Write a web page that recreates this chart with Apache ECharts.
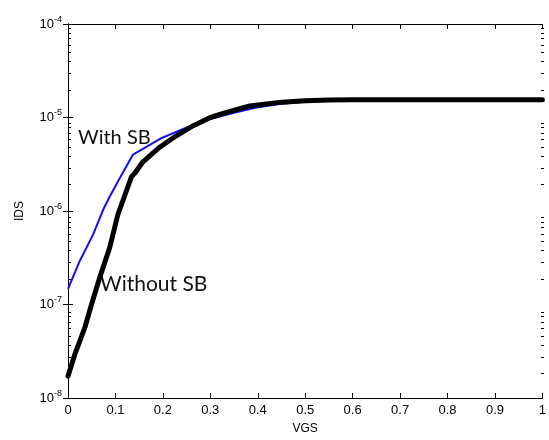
<!DOCTYPE html>
<html>
<head>
<meta charset="utf-8">
<script src="https://cdn.jsdelivr.net/npm/echarts@6/dist/echarts.min.js"></script>
<style>
  html, body { margin: 0; padding: 0; background: #fff; }
  #main { width: 549px; height: 440px; }
</style>
</head>
<body>
<div id="main"></div>
<script>
// VGS (V) and IDS (A)
const vgsWith = [0, 0.025, 0.053, 0.074, 0.088, 0.109, 0.137, 0.194, 0.243, 0.299, 0.35, 0.397, 0.45, 0.5, 0.55, 0.6, 0.8, 1.0];
const idsWith = [1.47e-7, 2.94e-7, 5.62e-7, 1.03e-6, 1.43e-6, 2.24e-6, 4.01e-6, 5.92e-6, 7.55e-6, 9.64e-6, 1.12e-5, 1.28e-5, 1.40e-5, 1.47e-5, 1.52e-5, 1.55e-5, 1.55e-5, 1.55e-5];

const vgsWithout = [0, 0.015, 0.036, 0.05, 0.067, 0.088, 0.105, 0.134, 0.14, 0.158, 0.194, 0.229, 0.264, 0.30, 0.334, 0.383, 0.45, 0.5, 0.55, 0.6, 0.8, 1.0];
const idsWithout = [1.71e-8, 2.99e-8, 5.78e-8, 1.02e-7, 1.95e-7, 4.07e-7, 9.12e-7, 2.34e-6, 2.5e-6, 3.36e-6, 4.84e-6, 6.41e-6, 8.18e-6, 1.0e-5, 1.135e-5, 1.33e-5, 1.46e-5, 1.51e-5, 1.54e-5, 1.55e-5, 1.55e-5, 1.55e-5];

const yMin = 1e-8, yMax = 1e-4;
const decades = [-8, -7, -6, -5];
const mantissas = [2, 3, 4, 5, 6, 7, 8, 9];

// minor log ticks, in log10 space for the helper axes
const minorTicks = [];
decades.forEach(e => mantissas.forEach(m => minorTicks.push(e + Math.log10(m))));

const zip = (xs, ys) => xs.map((x, i) => [x, ys[i]]);

const chart = echarts.init(document.getElementById('main'));

const tickBase = { show: true, inside: true, lineStyle: { color: '#000', width: 1 } };
const lineBase = { show: true, lineStyle: { color: '#000', width: 1 } };
const gridBox = { left: 68, right: 5, top: 24, bottom: 38 };

// second grid, same box, only carries the minor log ticks
const minorAxis = (pos) => ({
  type: 'value', gridIndex: 1, position: pos, min: -8, max: -4,
  axisLine: { show: false },
  axisLabel: { show: false },
  splitLine: { show: false },
  axisTick: Object.assign({}, tickBase, { length: 3, customValues: minorTicks })
});

chart.setOption({
  animation: false,
  backgroundColor: '#fff',
  grid: [Object.assign({}, gridBox), Object.assign({}, gridBox)],
  xAxis: [
    {
      type: 'value', position: 'bottom', min: 0, max: 1, interval: 0.1,
      name: 'VGS', nameLocation: 'middle', nameGap: 25, nameMoveOverlap: false,
      nameTextStyle: { color: '#000', fontSize: 12, fontFamily: 'Liberation Sans' },
      axisLine: lineBase,
      axisTick: Object.assign({}, tickBase, { length: 5 }),
      axisLabel: { color: '#000', fontSize: 13, fontFamily: 'Liberation Sans', margin: 6 },
      splitLine: { show: false }
    },
    {
      type: 'value', position: 'top', min: 0, max: 1, interval: 0.1,
      axisLine: lineBase,
      axisTick: Object.assign({}, tickBase, { length: 5 }),
      axisLabel: { show: false },
      splitLine: { show: false }
    },
    {
      type: 'value', gridIndex: 1, min: 0, max: 1, show: false
    }
  ],
  yAxis: [
    {
      type: 'log', logBase: 10, position: 'left', min: yMin, max: yMax,
      name: 'IDS', nameLocation: 'middle', nameGap: 42, nameRotate: 90, nameMoveOverlap: false,
      nameTextStyle: { color: '#000', fontSize: 12, fontFamily: 'Liberation Sans' },
      axisLine: lineBase,
      axisTick: Object.assign({}, tickBase, { length: 5 }),
      axisLabel: {
        margin: 6,
        formatter: v => '{b|10}{s|' + Math.round(Math.log10(v)) + '}',
        rich: {
          b: { fontSize: 13, color: '#000', fontFamily: 'Liberation Sans' },
          s: { fontSize: 9, color: '#000', fontFamily: 'Liberation Sans', padding: [0, 0, 9, 0] }
        }
      },
      splitLine: { show: false }
    },
    {
      type: 'log', logBase: 10, position: 'right', min: yMin, max: yMax,
      axisLine: lineBase,
      axisTick: Object.assign({}, tickBase, { length: 5 }),
      axisLabel: { show: false },
      splitLine: { show: false }
    },
    minorAxis('left'),
    minorAxis('right')
  ],
  graphic: [
    { type: 'text', left: 78, top: 128, style: { text: 'With SB', fontSize: 20, fontFamily: 'Lato', fill: '#111' } },
    { type: 'text', left: 100, top: 274, style: { text: 'Without SB', fontSize: 21, fontFamily: 'Lato', fill: '#111' } }
  ],
  series: [
    {
      name: 'With SB', type: 'line', xAxisIndex: 0, yAxisIndex: 0,
      data: zip(vgsWith, idsWith), showSymbol: false, smooth: false,
      lineStyle: { color: '#1010ee', width: 2 }, z: 2
    },
    {
      name: 'Without SB', type: 'line', xAxisIndex: 0, yAxisIndex: 0,
      data: zip(vgsWithout, idsWithout), showSymbol: false, smooth: false,
      lineStyle: { color: '#000', width: 5, join: 'round', cap: 'round' }, z: 3
    }
  ]
});
</script>
</body>
</html>
